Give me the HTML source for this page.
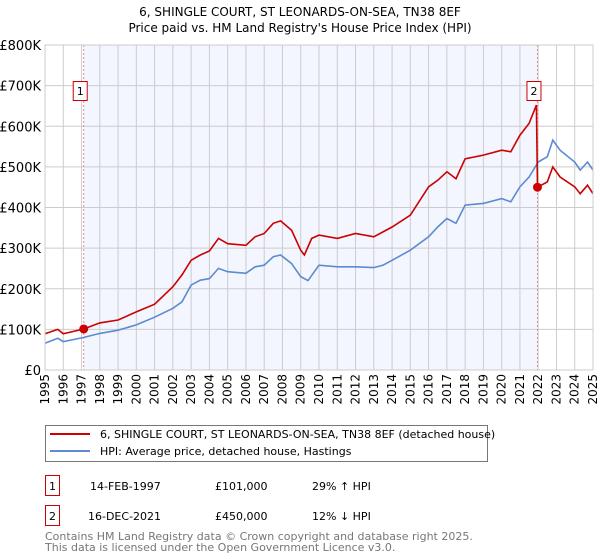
<!DOCTYPE html>
<html><head><meta charset="utf-8"><style>
body{margin:0;background:#fff;}
svg{display:block;font-family:"DejaVu Sans","Liberation Sans",sans-serif;}
</style></head><body>
<svg id="chart" width="600" height="560" viewBox="0 0 600 560">
<text x="300" y="16" text-anchor="middle" font-size="12">6, SHINGLE COURT, ST LEONARDS-ON-SEA, TN38 8EF</text>
<text x="300" y="32" text-anchor="middle" font-size="12">Price paid vs. HM Land Registry's House Price Index (HPI)</text>
<g id="plot"></g>
<g>
<rect x="45.5" y="425.5" width="442" height="36" fill="#fff" stroke="#777"/>
<line x1="50" y1="434" x2="90" y2="434" stroke="#cc0000" stroke-width="2"/>
<text x="100" y="438" font-size="11">6, SHINGLE COURT, ST LEONARDS-ON-SEA, TN38 8EF (detached house)</text>
<line x1="50" y1="451" x2="90" y2="451" stroke="#5b8bd0" stroke-width="2"/>
<text x="100" y="455" font-size="11">HPI: Average price, detached house, Hastings</text>
</g>
<g font-size="11">
<rect x="45.5" y="475.5" width="14" height="20" fill="#fff" stroke="#cc0000"/>
<text x="52.5" y="490" text-anchor="middle">1</text>
<text x="90" y="490">14-FEB-1997</text><text x="215" y="490">£101,000</text><text x="312" y="490">29% ↑ HPI</text>
<rect x="45.5" y="505.5" width="14" height="20" fill="#fff" stroke="#cc0000"/>
<text x="52.5" y="520" text-anchor="middle">2</text>
<text x="88" y="520">16-DEC-2021</text><text x="215" y="520">£450,000</text><text x="312" y="520">12% ↓ HPI</text>
</g>
<g font-size="11" fill="#777">
<text x="45" y="540">Contains HM Land Registry data © Crown copyright and database right 2025.</text>
<text x="45" y="551">This data is licensed under the Open Government Licence v3.0.</text>
</g>
</svg>
<script>
const hpiYears=[1995,1995.7,1996,1997.1,1998,1999,2000,2001,2002,2002.5,2003,2003.5,2004,2004.5,2005,2006,2006.5,2007,2007.5,2007.9,2008.5,2009,2009.4,2010,2011,2012,2013,2013.5,2014,2015,2016,2016.5,2017,2017.5,2018,2019,2020,2020.5,2021,2021.5,2022,2022.5,2022.8,2023.2,2024,2024.3,2024.7,2025];
const hpiValues=[66,78,70,80,90,98,111,130,152,168,209,221,225,250,242,238,254,258,279,283,262,230,220,258,254,254,252,258,270,295,328,352,373,361,406,410,422,414,451,475,512,525,566,541,512,492,512,492];
const priceYears=[1995,1995.7,1996,1997.12,1998,1999,2000,2001,2002,2002.5,2003,2003.5,2004,2004.5,2005,2006,2006.5,2007,2007.5,2007.9,2008.5,2009,2009.2,2009.6,2010,2011,2012,2013,2014,2015,2016,2016.5,2017,2017.5,2018,2019,2020,2020.5,2021,2021.5,2021.9,2021.96,2022.5,2022.8,2023.2,2024,2024.3,2024.7,2025];
const priceValues=[89,100,89,101,116,123,143,162,205,234,270,283,293,324,311,307,328,336,361,367,344,295,283,324,332,324,336,328,352,381,451,467,488,471,520,529,541,537,578,607,652,450,463,500,475,451,434,455,434];
const saleYears=[1997.12,2021.96];
const saleValues=[101,450];
const saleLabels=["1","2"];
const yTicks=[0,100,200,300,400,500,600,700,800];
const yTickLabels=["£0","£100K","£200K","£300K","£400K","£500K","£600K","£700K","£800K"];
const xTicks=[1995,1996,1997,1998,1999,2000,2001,2002,2003,2004,2005,2006,2007,2008,2009,2010,2011,2012,2013,2014,2015,2016,2017,2018,2019,2020,2021,2022,2023,2024,2025];

const NS="http://www.w3.org/2000/svg";
const X0=45,X1=593,Y0=370,Y1=45;
const xs=y=>X0+(y-1995)/30*(X1-X0);
const ys=v=>Y0-v/800*(Y0-Y1);
const g=document.getElementById('plot');
function mk(t,a,p){const e=document.createElementNS(NS,t);for(const k in a)e.setAttribute(k,a[k]);(p||g).appendChild(e);return e;}
let e=mk('rect',{x:xs(saleYears[0]),y:Y1,width:xs(saleYears[1])-xs(saleYears[0]),height:Y0-Y1,fill:'#f3f6fe'});


yTicks.forEach((t,i)=>{
 let l=mk('line',{x1:X0,x2:X1,y1:ys(t),y2:ys(t),stroke:'#ccc'});
 
 
 let tx=mk('text',{x:X0-4,y:ys(t)+5,'text-anchor':'end','font-size':'13'});
 tx.textContent=yTickLabels[i];
 
 
});
xTicks.forEach(t=>{
 let l=mk('line',{x1:xs(t),x2:xs(t),y1:Y1,y2:Y0,stroke:'#ccc'});
 
 
 let tx=mk('text',{x:0,y:0,'text-anchor':'end','font-size':'12',transform:`translate(${xs(t)+4},${Y0+4}) rotate(-90)`});
 tx.textContent=t;
 
 
});
saleYears.forEach((s,i)=>{
 let l=mk('line',{x1:xs(s),x2:xs(s),y1:Y1,y2:Y0,stroke:'#e88','stroke-dasharray':'2,2'});
 
 
});
function path(xa,va,col,name){
 let p=mk('path',{d:xa.map((x,i)=>(i?'L':'M')+xs(x).toFixed(1)+','+ys(va[i]).toFixed(1)).join(''),fill:'none',stroke:col,'stroke-width':'1.6'});
 
 
}
path(hpiYears,hpiValues,'#5b8bd0','hpi-line');
path(priceYears,priceValues,'#cc0000','price-line');
saleYears.forEach((s,i)=>{
 let c=mk('circle',{cx:xs(s),cy:ys(saleValues[i]),r:4.5,fill:'#cc0000'});
 
 
 let b=mk('rect',{x:xs(s)-10.5,y:81.5,width:14,height:19,fill:'#fff',stroke:'#cc0000'});
 
 
 let tx=mk('text',{x:xs(s)-3.5,y:95,'text-anchor':'middle','font-size':'11'});
 tx.textContent=saleLabels[i];
 
 
});
let fr=mk('rect',{x:X0,y:Y1,width:X1-X0,height:Y0-Y1,fill:'none',stroke:'#ccc'});


</script>
</body></html>
